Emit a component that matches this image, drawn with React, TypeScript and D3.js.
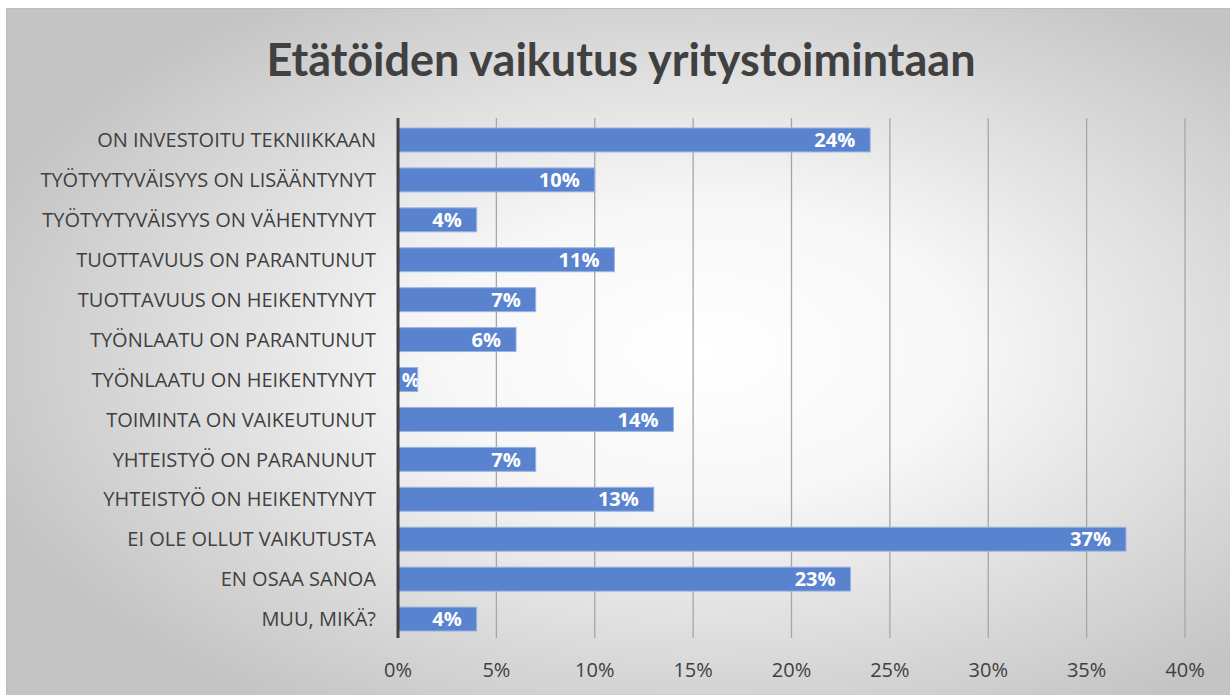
import React from "react";
import * as d3 from "d3";

const categories = [
  "ON INVESTOITU TEKNIIKKAAN",
  "TYÖTYYTYVÄISYYS ON LISÄÄNTYNYT",
  "TYÖTYYTYVÄISYYS ON VÄHENTYNYT",
  "TUOTTAVUUS ON PARANTUNUT",
  "TUOTTAVUUS ON HEIKENTYNYT",
  "TYÖNLAATU ON PARANTUNUT",
  "TYÖNLAATU ON HEIKENTYNYT",
  "TOIMINTA ON VAIKEUTUNUT",
  "YHTEISTYÖ ON PARANUNUT",
  "YHTEISTYÖ ON HEIKENTYNYT",
  "EI OLE OLLUT VAIKUTUSTA",
  "EN OSAA SANOA",
  "MUU, MIKÄ?",
];
const values = [24, 10, 4, 11, 7, 6, 1, 14, 7, 13, 37, 23, 4];
const xTicks = [0, 5, 10, 15, 20, 25, 30, 35, 40];
const title = "Etätöiden vaikutus yritystoimintaan";

const W = 1230;
const H = 695;
const FONT = "Lato, 'Open Sans', sans-serif";
const LABEL_FONT = "'Open Sans', Lato, sans-serif";

export default function App() {
  const x = d3.scaleLinear().domain([0, 40]).range([398, 1185]);
  const y = d3
    .scaleBand<string>()
    .domain(categories)
    .range([120, 639])
    .paddingInner(0.4)
    .paddingOuter(0.2);
  const top = 118;
  const bottom = 638;
  return (
    <svg
      width={W}
      height={H}
      style={{ position: "absolute", left: 0, top: 0 }}
      xmlns="http://www.w3.org/2000/svg"
    >
      <defs>
        <radialGradient id="bg" cx="0.57" cy="0.5" r="0.62">
          <stop offset="0" stopColor="#ffffff" />
          <stop offset="0.35" stopColor="#f7f7f7" />
          <stop offset="1" stopColor="#c4c4c4" />
        </radialGradient>
        {categories.map((c, i) => (
          <clipPath id={`clip${i}`} key={c}>
            <rect
              x={x(0)}
              y={y(c)!}
              width={x(values[i]) - x(0)}
              height={y.bandwidth()}
            />
          </clipPath>
        ))}
      </defs>
      <rect x={0} y={0} width={W} height={H} fill="#ffffff" />
      <rect x={6} y={8} width={W - 6} height={H - 8} fill="url(#bg)" />
      <rect
        x={6.5}
        y={8.5}
        width={W}
        height={H}
        fill="none"
        stroke="#bdbdbd"
        strokeWidth={1}
      />
      <text
        x={621}
        y={76}
        textAnchor="middle"
        fontFamily={FONT}
        fontWeight="bold"
        fontSize={45}
        fill="#404040"
      >
        {title}
      </text>
      {xTicks.slice(1).map((t) => (
        <line
          key={t}
          x1={x(t)}
          x2={x(t)}
          y1={top}
          y2={bottom}
          stroke="#a6a6a6"
          strokeWidth={1.3}
        />
      ))}
      {categories.map((c, i) => (
        <g key={c}>
          <rect
            x={x(0)}
            y={y(c)!}
            width={x(values[i]) - x(0)}
            height={y.bandwidth()}
            fill="#5a83cf"
            stroke="#9db4e0"
            strokeWidth={1}
          />
          <text
            clipPath={`url(#clip${i})`}
            x={values[i] < 3 ? x(values[i]) + 2 : x(values[i]) - 15}
            y={y(c)! + y.bandwidth() / 2}
            dy="0.36em"
            textAnchor="end"
            fontFamily={LABEL_FONT}
            fontWeight="bold"
            fontSize={20}
            fill="#ffffff"
          >
            {values[i] + "%"}
          </text>
          <text
            x={376}
            y={y(c)! + y.bandwidth() / 2}
            dy="0.36em"
            textAnchor="end"
            fontFamily={LABEL_FONT}
            fontSize={20}
            fill="#404040"
          >
            {c}
          </text>
        </g>
      ))}
      <line
        x1={x(0)}
        x2={x(0)}
        y1={top}
        y2={bottom}
        stroke="#404040"
        strokeWidth={3}
      />
      {xTicks.map((t) => (
        <text
          key={t}
          x={x(t)}
          y={677}
          textAnchor="middle"
          fontFamily={LABEL_FONT}
          fontSize={20}
          fill="#404040"
        >
          {t + "%"}
        </text>
      ))}
    </svg>
  );
}
